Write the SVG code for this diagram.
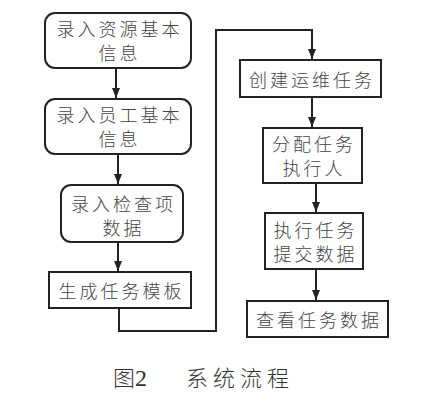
<svg xmlns="http://www.w3.org/2000/svg" width="436" height="409" viewBox="0 0 436 409">
<defs>
<marker id="ah" viewBox="0 0 10 10" refX="10" refY="5" markerWidth="10" markerHeight="10" markerUnits="userSpaceOnUse" orient="auto"><path d="M0,1 L10,5 L0,9 Z" fill="#222"/></marker>
<style>
.b{fill:#fff;stroke:#222;stroke-width:2}
.t{font-family:"Noto Sans CJK SC",sans-serif;font-size:18px;font-weight:300;fill:#444;text-anchor:middle;letter-spacing:3px}
.c{fill:none;stroke:#222;stroke-width:2}
.cap{font-family:"Noto Sans CJK SC",sans-serif;font-size:22px;font-weight:300;fill:#333}
</style>
</defs>
<rect width="436" height="409" fill="#fff"/>
<g id="connectors">
<line class="c" x1="116" y1="68" x2="116" y2="98" marker-end="url(#ah)"/>
<line class="c" x1="118" y1="154" x2="118" y2="184" marker-end="url(#ah)"/>
<line class="c" x1="118" y1="242" x2="118" y2="271" marker-end="url(#ah)"/>
<polyline class="c" points="119,308 119,331 216,331 216,30 312,30 312,59" marker-end="url(#ah)"/>
<line class="c" x1="312" y1="97" x2="312" y2="127" marker-end="url(#ah)"/>
<line class="c" x1="316" y1="183" x2="316" y2="212" marker-end="url(#ah)"/>
<line class="c" x1="316" y1="269" x2="316" y2="300" marker-end="url(#ah)"/>
</g>
<g id="n1"><rect class="b" x="45" y="13" width="146" height="55" rx="10"/><text class="t" x="119.5" y="36">录入资源基本</text><text class="t" x="119.5" y="60">信息</text></g>
<g id="n2"><rect class="b" x="45" y="99" width="146" height="55" rx="10"/><text class="t" x="119.5" y="122">录入员工基本</text><text class="t" x="119.5" y="146">信息</text></g>
<g id="n3"><rect class="b" x="61" y="185" width="122" height="57" rx="10"/><text class="t" x="123.5" y="211">录入检查项</text><text class="t" x="123.5" y="235">数据</text></g>
<g id="n4"><rect class="b" x="49" y="272" width="142" height="36"/><text class="t" x="121.5" y="298">生成任务模板</text></g>
<g id="n5"><rect class="b" x="240" y="60" width="141" height="37"/><text class="t" x="312" y="87">创建运维任务</text></g>
<g id="n6"><rect class="b" x="263" y="128" width="99" height="55"/><text class="t" x="314" y="151">分配任务</text><text class="t" x="314" y="175">执行人</text></g>
<g id="n7"><rect class="b" x="265" y="213" width="98" height="56"/><text class="t" x="315.5" y="237">执行任务</text><text class="t" x="315.5" y="261">提交数据</text></g>
<g id="n8"><rect class="b" x="247" y="301" width="141" height="36"/><text class="t" x="319" y="327">查看任务数据</text></g>
<g id="caption"><text class="cap" x="113" y="386">图<tspan font-family="Liberation Serif" font-size="24">2</tspan></text><text class="cap" x="186" y="386" letter-spacing="5">系统流程</text></g>
</svg>
